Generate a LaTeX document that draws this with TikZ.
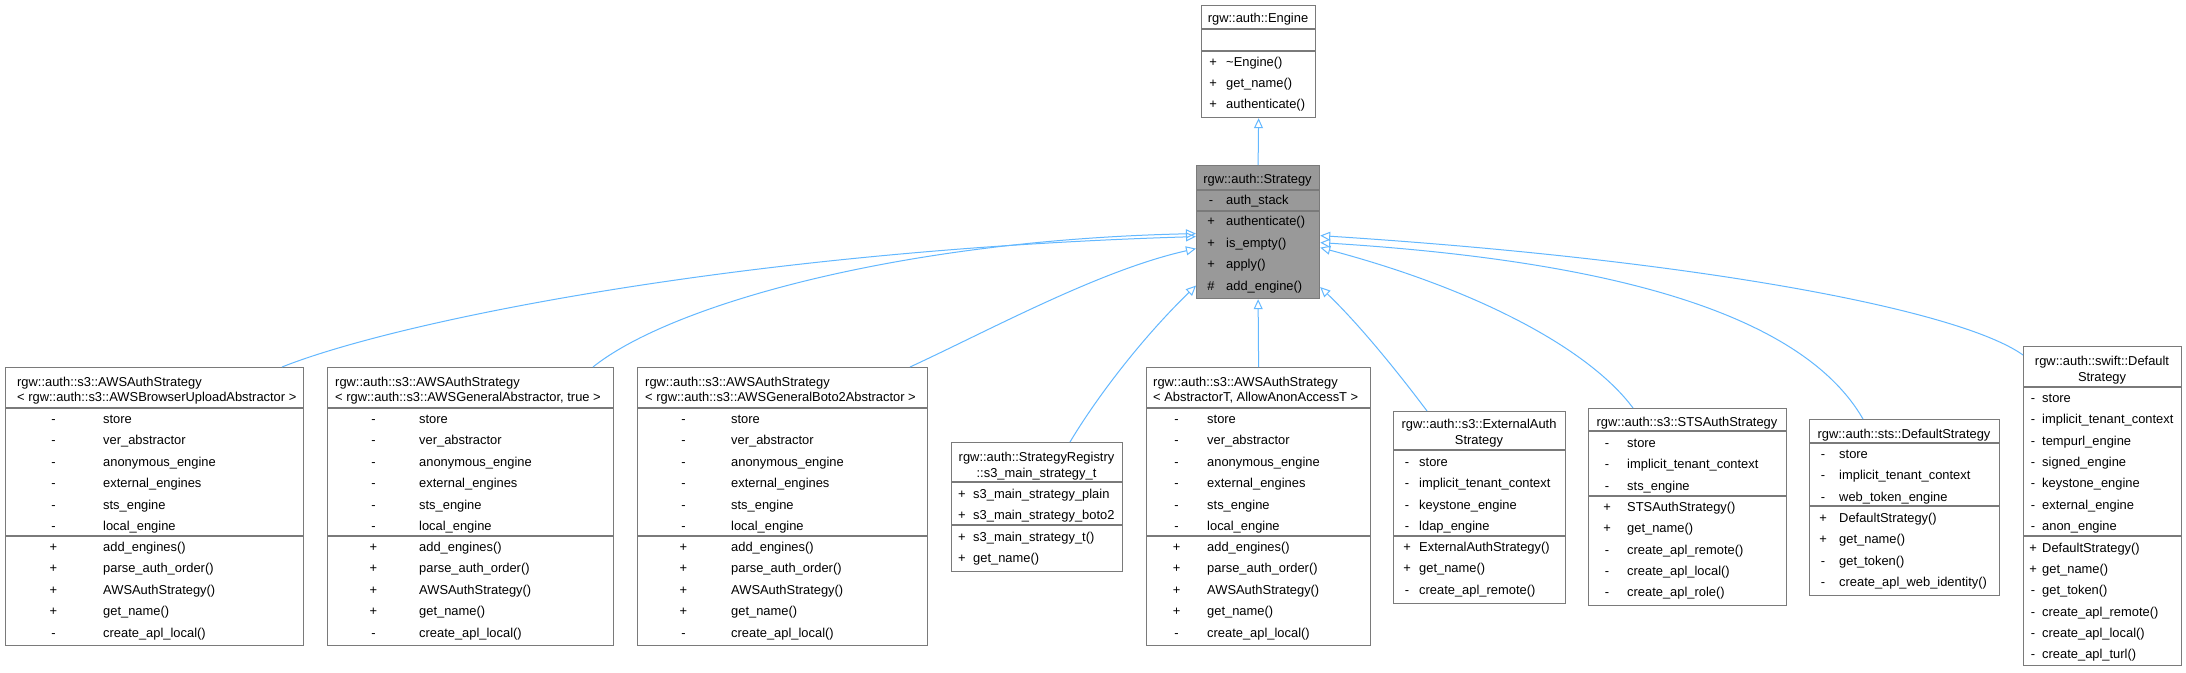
\documentclass[tikz,border=0pt]{standalone}
\usepackage{fontspec}
\setmainfont{Liberation Sans}
\usetikzlibrary{arrows.meta,calc}
\definecolor{bordc}{HTML}{7A7A7A}
\definecolor{inhc}{HTML}{63B8FF}
\definecolor{hlfill}{HTML}{999999}
\newcommand\dfont{\fontsize{12.9}{15}\selectfont}
\newcommand\members[6]{%
  \foreach \s/\n [count=\i from 0] in {#6} {
    \node[symc] (#1s\i) at (#2, {#4+#5*\i}) {\s};
    \node[txt] (#1n\i) at (#3, {#4+#5*\i}) {\n};
  }}
\begin{document}
\begin{tikzpicture}[x=1pt,y=-1pt,
  box/.style={draw=bordc, line width=1.2pt, fill=white, rectangle, anchor=north west, inner sep=0pt},
  sepline/.style={draw=bordc, line width=1.2pt},
  txt/.style={anchor=base west, inner sep=0pt, font=\dfont},
  symc/.style={anchor=base, inner sep=0pt, font=\dfont},
  ctr/.style={anchor=base, inner sep=0pt, font=\dfont},
  inh/.style={draw=inhc, line width=1pt, -{Triangle[open, length=10pt, width=9pt]}}]
\useasboundingbox[fill=white] (0,0) rectangle (2186,672);

% ---------- Engine ----------
\node[box, minimum width=114pt, minimum height=112pt] (eng) at (1201,5) {};
\draw[sepline] (eng.west |- 0,29) -- (eng.east |- 0,29);
\draw[sepline] (eng.west |- 0,51) -- (eng.east |- 0,51);
\node[ctr] (engt) at (1258,22.5) {rgw::auth::Engine};
\members{eng}{1213}{1226}{66.5}{21.1}{+/\textasciitilde{}Engine(), +/get\_name(), +/authenticate()}

% ---------- Strategy ----------
\node[box, fill=hlfill, minimum width=123pt, minimum height=133pt] (strat) at (1196,165) {};
\draw[sepline] (strat.west |- 0,190) -- (strat.east |- 0,190);
\draw[sepline] (strat.west |- 0,211) -- (strat.east |- 0,211);
\node[ctr] (stratt) at (1257.5,183.5) {rgw::auth::Strategy};
\members{sta}{1211}{1226}{204.5}{21.4}{-/auth\_stack}
\members{stm}{1211}{1226}{225.5}{21.5}{+/authenticate(), +/is\_empty(), +/apply(), \#/add\_engine()}

% ---------- AWSAuthStrategy < BrowserUpload > ----------
\node[box, minimum width=298pt, minimum height=278pt] (b1) at (5,367) {};
\draw[sepline] (b1.west |- 0,408) -- (b1.east |- 0,408);
\draw[sepline] (b1.west |- 0,536) -- (b1.east |- 0,536);
\node[txt] (b1t1) at (17,386.5) {rgw::auth::s3::AWSAuthStrategy};
\node[txt] (b1t2) at (17,401.5) {< rgw::auth::s3::AWSBrowserUploadAbstractor >};
\members{b1a}{53.5}{103}{423.5}{21.4}{-/store, -/ver\_abstractor, -/anonymous\_engine, -/external\_engines, -/sts\_engine, -/local\_engine}
\members{b1m}{53.5}{103}{551.5}{21.4}{+/add\_engines(), +/parse\_auth\_order(), +/AWSAuthStrategy(), +/get\_name(), -/create\_apl\_local()}

% ---------- AWSAuthStrategy < General, true > ----------
\node[box, minimum width=286pt, minimum height=278pt] (b2) at (327,367) {};
\draw[sepline] (b2.west |- 0,408) -- (b2.east |- 0,408);
\draw[sepline] (b2.west |- 0,536) -- (b2.east |- 0,536);
\node[txt] (b2t1) at (335,386.5) {rgw::auth::s3::AWSAuthStrategy};
\node[txt] (b2t2) at (335,401.5) {< rgw::auth::s3::AWSGeneralAbstractor, true >};
\members{b2a}{373.5}{419}{423.5}{21.4}{-/store, -/ver\_abstractor, -/anonymous\_engine, -/external\_engines, -/sts\_engine, -/local\_engine}
\members{b2m}{373.5}{419}{551.5}{21.4}{+/add\_engines(), +/parse\_auth\_order(), +/AWSAuthStrategy(), +/get\_name(), -/create\_apl\_local()}

% ---------- AWSAuthStrategy < Boto2 > ----------
\node[box, minimum width=290pt, minimum height=278pt] (b3) at (637,367) {};
\draw[sepline] (b3.west |- 0,408) -- (b3.east |- 0,408);
\draw[sepline] (b3.west |- 0,536) -- (b3.east |- 0,536);
\node[txt] (b3t1) at (645,386.5) {rgw::auth::s3::AWSAuthStrategy};
\node[txt] (b3t2) at (645,401.5) {< rgw::auth::s3::AWSGeneralBoto2Abstractor >};
\members{b3a}{683.5}{731}{423.5}{21.4}{-/store, -/ver\_abstractor, -/anonymous\_engine, -/external\_engines, -/sts\_engine, -/local\_engine}
\members{b3m}{683.5}{731}{551.5}{21.4}{+/add\_engines(), +/parse\_auth\_order(), +/AWSAuthStrategy(), +/get\_name(), -/create\_apl\_local()}

% ---------- StrategyRegistry::s3_main_strategy_t ----------
\node[box, minimum width=171pt, minimum height=129pt] (b4) at (951,442) {};
\draw[sepline] (b4.west |- 0,482) -- (b4.east |- 0,482);
\draw[sepline] (b4.west |- 0,525) -- (b4.east |- 0,525);
\node[ctr] (b4t1) at (1036.5,461.5) {rgw::auth::StrategyRegistry};
\node[ctr] (b4t2) at (1036.5,477.5) {::s3\_main\_strategy\_t};
\members{b4a}{962}{973}{498}{21.3}{+/s3\_main\_strategy\_plain, +/s3\_main\_strategy\_boto2}
\members{b4m}{962}{973}{541.5}{21.3}{+/s3\_main\_strategy\_t(), +/get\_name()}

% ---------- AWSAuthStrategy < AbstractorT, AllowAnonAccessT > ----------
\node[box, minimum width=224pt, minimum height=278pt] (b5) at (1146,367) {};
\draw[sepline] (b5.west |- 0,408) -- (b5.east |- 0,408);
\draw[sepline] (b5.west |- 0,536) -- (b5.east |- 0,536);
\node[txt] (b5t1) at (1153,386.5) {rgw::auth::s3::AWSAuthStrategy};
\node[txt] (b5t2) at (1153,401.5) {< AbstractorT, AllowAnonAccessT >};
\members{b5a}{1176.5}{1207}{423.5}{21.4}{-/store, -/ver\_abstractor, -/anonymous\_engine, -/external\_engines, -/sts\_engine, -/local\_engine}
\members{b5m}{1176.5}{1207}{551.5}{21.4}{+/add\_engines(), +/parse\_auth\_order(), +/AWSAuthStrategy(), +/get\_name(), -/create\_apl\_local()}

% ---------- ExternalAuthStrategy ----------
\node[box, minimum width=172pt, minimum height=192pt] (b6) at (1393,411) {};
\draw[sepline] (b6.west |- 0,450) -- (b6.east |- 0,450);
\draw[sepline] (b6.west |- 0,536) -- (b6.east |- 0,536);
\node[ctr] (b6t1) at (1479,428.5) {rgw::auth::s3::ExternalAuth};
\node[ctr] (b6t2) at (1479,444.5) {Strategy};
\members{b6a}{1407}{1419}{466.5}{21.4}{-/store, -/implicit\_tenant\_context, -/keystone\_engine, -/ldap\_engine}
\members{b6m}{1407}{1419}{551.5}{21.4}{+/ExternalAuthStrategy(), +/get\_name(), -/create\_apl\_remote()}

% ---------- STSAuthStrategy ----------
\node[box, minimum width=198pt, minimum height=197pt] (b7) at (1588,408) {};
\draw[sepline] (b7.west |- 0,431) -- (b7.east |- 0,431);
\draw[sepline] (b7.west |- 0,496) -- (b7.east |- 0,496);
\node[ctr] (b7t1) at (1687,426.5) {rgw::auth::s3::STSAuthStrategy};
\members{b7a}{1607}{1627}{447.5}{21.4}{-/store, -/implicit\_tenant\_context, -/sts\_engine}
\members{b7m}{1607}{1627}{511.5}{21.25}{+/STSAuthStrategy(), +/get\_name(), -/create\_apl\_remote(), -/create\_apl\_local(), -/create\_apl\_role()}

% ---------- sts::DefaultStrategy ----------
\node[box, minimum width=190pt, minimum height=176pt] (b8) at (1809,419) {};
\draw[sepline] (b8.west |- 0,443) -- (b8.east |- 0,443);
\draw[sepline] (b8.west |- 0,506) -- (b8.east |- 0,506);
\node[ctr] (b8t1) at (1904,438.5) {rgw::auth::sts::DefaultStrategy};
\members{b8a}{1823}{1839}{458.5}{21.4}{-/store, -/implicit\_tenant\_context, -/web\_token\_engine}
\members{b8m}{1823}{1839}{522.5}{21.3}{+/DefaultStrategy(), +/get\_name(), -/get\_token(), -/create\_apl\_web\_identity()}

% ---------- swift::DefaultStrategy ----------
\node[box, minimum width=158pt, minimum height=319pt] (b9) at (2023,346) {};
\draw[sepline] (b9.west |- 0,387) -- (b9.east |- 0,387);
\draw[sepline] (b9.west |- 0,536) -- (b9.east |- 0,536);
\node[ctr] (b9t1) at (2102,365.5) {rgw::auth::swift::Default};
\node[ctr] (b9t2) at (2102,381.5) {Strategy};
\members{b9a}{2033}{2042}{402.5}{21.3}{-/store, -/implicit\_tenant\_context, -/tempurl\_engine, -/signed\_engine, -/keystone\_engine, -/external\_engine, -/anon\_engine}
\members{b9m}{2033}{2042}{552.5}{21.2}{+/DefaultStrategy(), +/get\_name(), -/get\_token(), -/create\_apl\_remote(), -/create\_apl\_local(), -/create\_apl\_turl()}

% ---------- inheritance connectors ----------
\draw[inh] (strat.north) -- (eng.south);
\draw[inh] (b5.north) -- (strat.south);
\draw[inh] ($(b1.north west)+(277,0)$) .. controls (400,320) and (750,250) .. ($(strat.west)+(0,4.5)$);
\draw[inh] ($(b2.north west)+(266,0)$) .. controls (670,305) and (900,240) .. ($(strat.west)+(0,1.5)$);
\draw[inh] ($(b3.north west)+(273,0)$) .. controls (990,330) and (1100,270) .. ($(strat.west)+(0,16.5)$);
\draw[inh] ($(b4.north west)+(119,0)$) .. controls (1095,400) and (1140,340) .. ($(strat.west)+(0,53.5)$);
\draw[inh] ($(b6.north west)+(34,0)$) .. controls (1400,375) and (1360,325) .. ($(strat.east)+(0,55)$);
\draw[inh] ($(b7.north west)+(45,0)$) .. controls (1590,350) and (1480,290) .. ($(strat.east)+(0,15.5)$);
\draw[inh] ($(b8.north west)+(54,0)$) .. controls (1800,310) and (1600,260) .. ($(strat.east)+(0,10.5)$);
\draw[inh] ($(b9.north west)+(0,9)$) .. controls (1960,310) and (1700,260) .. ($(strat.east)+(0,3.5)$);
\end{tikzpicture}
\end{document}
